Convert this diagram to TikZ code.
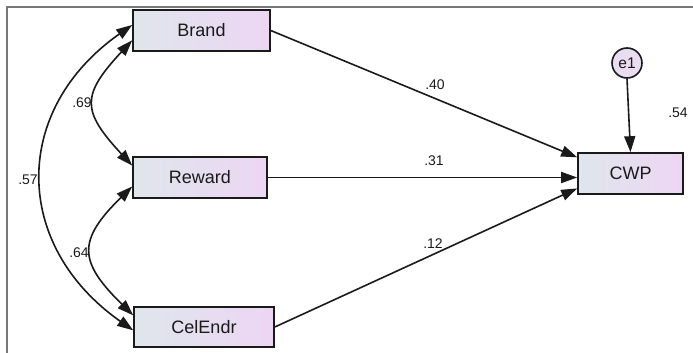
\documentclass[tikz,border=0pt]{standalone}
\usepackage{fontspec}
\setmainfont{Liberation Sans}
\usetikzlibrary{arrows.meta,calc,shadings}
\definecolor{boxleft}{HTML}{DFE6EC}
\definecolor{boxright}{HTML}{EDD6F3}
\definecolor{errfill}{HTML}{EADDF2}
\definecolor{framegray}{HTML}{777777}
\definecolor{ink}{HTML}{1A1A1A}
\tikzset{
  varbox/.style={draw=ink, line width=1.6pt, left color=boxleft, right color=boxright,
    inner sep=0pt, minimum height=41pt, font=\fontsize{18}{20}\selectfont, text=ink},
  errnode/.style={draw=ink, line width=1.6pt, circle, fill=errfill, minimum size=30pt,
    inner sep=0pt, font=\fontsize{15.5}{17}\selectfont, text=ink},
  tip/.style={Triangle[length=16pt,width=11pt]},
  path/.style={draw=ink, line width=1.6pt, -{Triangle[length=16pt,width=11pt]}},
  cov/.style={draw=ink, line width=1.6pt, {Triangle[length=16pt,width=11pt]}-{Triangle[length=16pt,width=11pt]}},
  est/.style={font=\fontsize{14}{16}\selectfont, text=ink, inner sep=0pt}
}
\begin{document}
\begin{tikzpicture}[x=1pt,y=-1pt]
\useasboundingbox (0,0) rectangle (693,353);
% frame edges
\draw[framegray, line width=1.6pt] (7,353) -- (7,7) -- (693,7);

% observed variables
\node[varbox, minimum width=137pt] (brand) at (201.5,30.5) {Brand};
\node[varbox, minimum width=134pt] (reward) at (200,177.5) {Reward};
\node[varbox, minimum width=140pt, minimum height=40pt] (cel) at (204,327) {CelEndr};
\node[varbox, minimum width=105pt] (cwp) at (630.5,173.5) {CWP};
\node[errnode] (e1) at (627,63) {e1};

% regression paths
\draw[path] (brand.east) -- ($(cwp.north west)!0.12!(cwp.south west)$);
\draw[path] (reward.east) -- (reward.east -| cwp.west);
\draw[path] (cel.east) -- ($(cwp.north west)!0.85!(cwp.south west)$);
\draw[path] (e1.south) -- ($(cwp.north west)!0.5!(cwp.north east)$);

% covariances
\draw[cov] ($(brand.north west)!0.37!(brand.south west)$)
  .. controls +(-121,85) and +(-121,-85) .. ($(cel.north west)!0.58!(cel.south west)$);
\draw[cov] ($(brand.north west)!0.73!(brand.south west)$)
  .. controls +(-51,55) and +(-51,-55) .. ($(reward.north west)!0.22!(reward.south west)$);
\draw[cov] ($(reward.north west)!0.71!(reward.south west)$)
  .. controls +(-55,54) and +(-55,-54) .. ($(cel.north west)!0.22!(cel.south west)$);

% estimates
\node[est] (l40) at (435,85) {.40};
\node[est] (l31) at (434,161) {.31};
\node[est] (l12) at (433,244) {.12};
\node[est] (l69) at (82,103) {.69};
\node[est] (l64) at (79,253) {.64};
\node[est] (l57) at (28,180) {.57};
\node[est] (l54) at (678,113) {.54};
\end{tikzpicture}
\end{document}
